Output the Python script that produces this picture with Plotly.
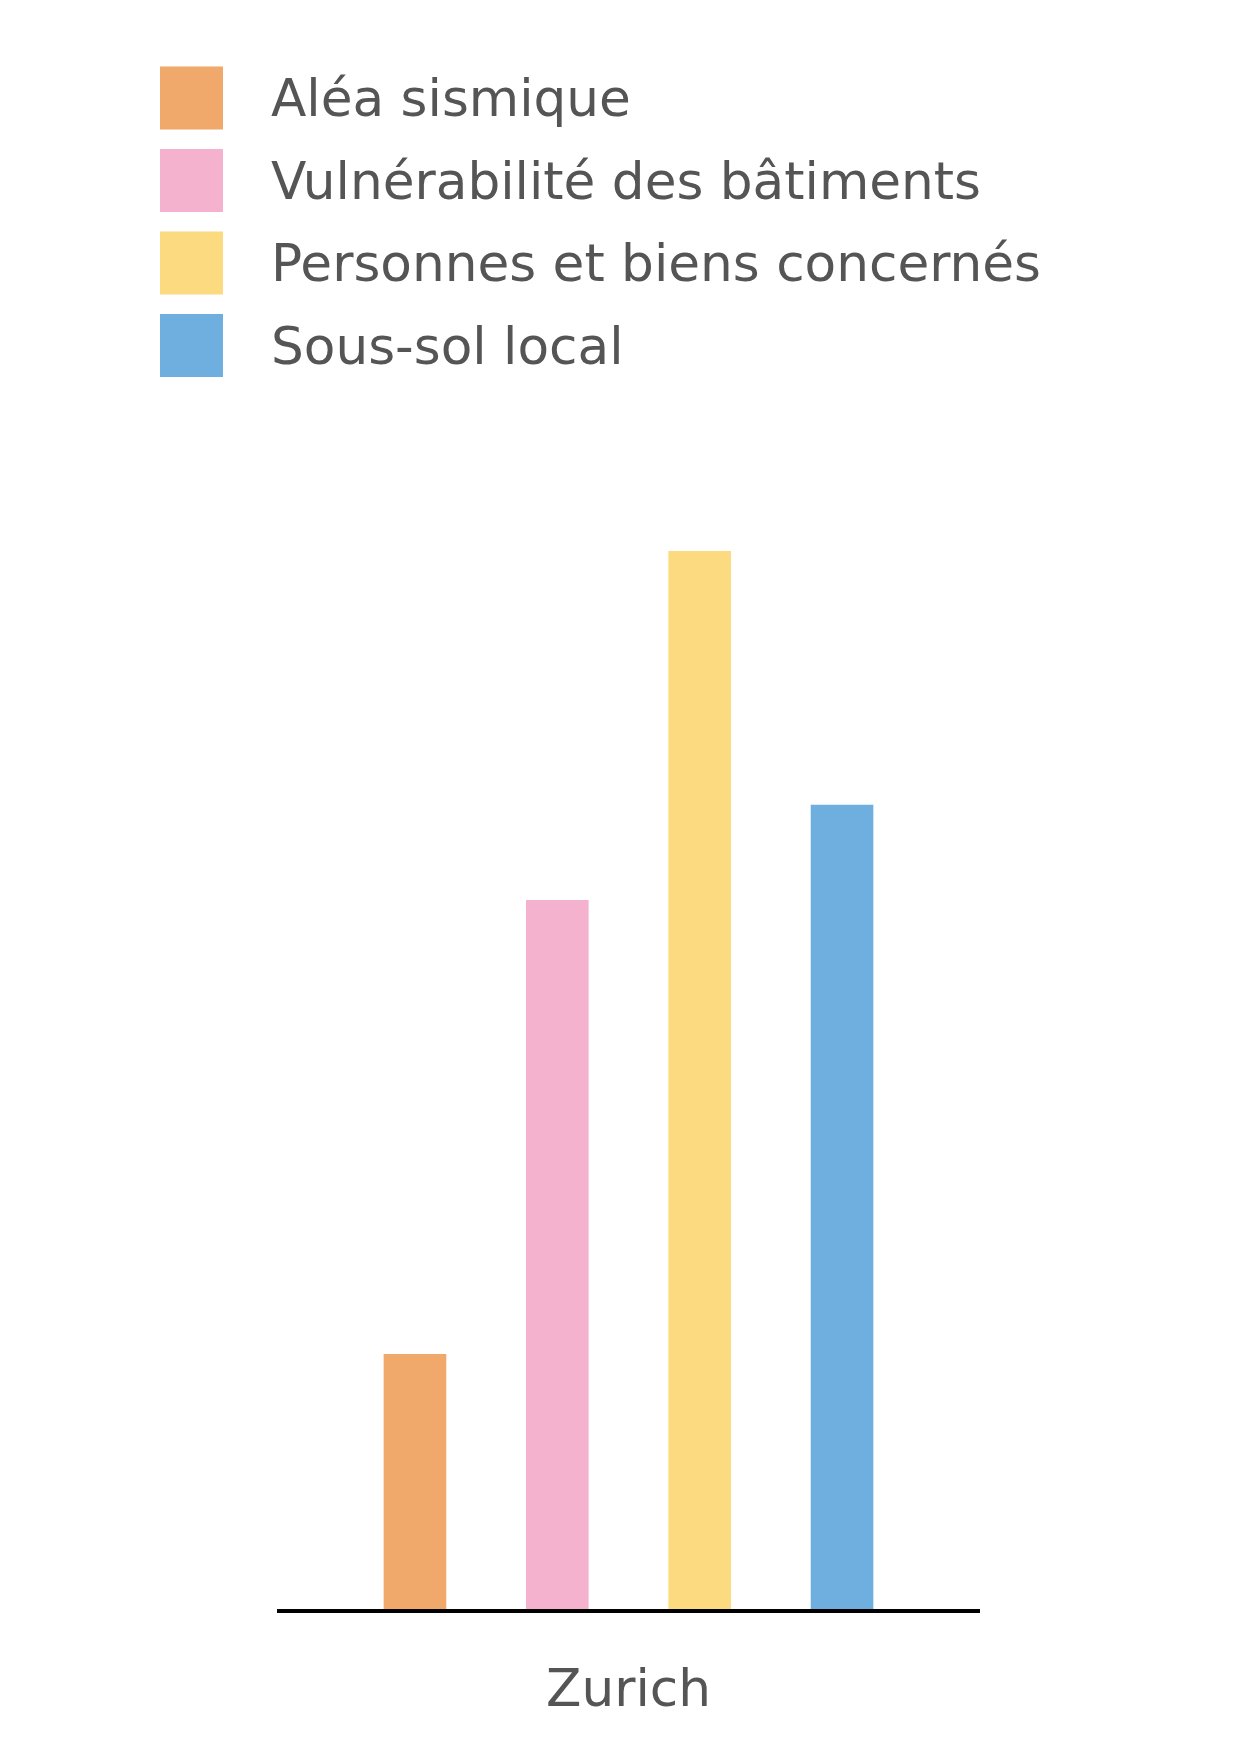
import plotly.graph_objects as go

categories = ["Zurich"]
series_names = ["Aléa sismique", "Vulnérabilité des bâtiments",
                "Personnes et biens concernés", "Sous-sol local"]
series_values = [[2.41], [6.70], [10.0], [7.60]]
series_colors = ["rgb(240,168,107)", "rgb(244,178,206)",
                 "rgb(252,218,128)", "rgb(111,175,223)"]

W, H = 1241, 1754
ML, MR, MT, MB = 269, 269, 490, 153
PW, PH = W - ML - MR, H - MT - MB
TEXT = "rgb(85,85,85)"
FONT = "DejaVu Sans"
FSIZE = 51.7

def px2x(px):
    return (px - ML) / PW

def py2y(py):
    return (H - MB - py) / PH

fig = go.Figure()
for name, vals, col in zip(series_names, series_values, series_colors):
    fig.add_trace(go.Bar(x=categories, y=vals, name=name,
                         marker=dict(color=col, line=dict(width=0)),
                         showlegend=False))

shapes, annotations = [], []
sq = 63
for i, (name, col) in enumerate(zip(series_names, series_colors)):
    cy = 90 + i * 82.5
    shapes.append(dict(type="rect", xref="paper", yref="paper",
                       x0=px2x(152), x1=px2x(152 + sq),
                       y0=py2y(cy + sq / 2), y1=py2y(cy - sq / 2),
                       fillcolor=col, line=dict(width=0), layer="above"))
    annotations.append(dict(text=name, xref="paper", yref="paper",
                            x=px2x(261), y=py2y(cy), xanchor="left",
                            yanchor="middle", showarrow=False,
                            font=dict(family=FONT, size=FSIZE, color=TEXT)))

fig.update_layout(
    width=W, height=H,
    margin=dict(l=ML, r=MR, t=MT, b=MB, pad=0),
    paper_bgcolor="white", plot_bgcolor="white",
    barmode="group", bargap=0.19, bargroupgap=0.56,
    showlegend=False,
    font=dict(family=FONT, color=TEXT),
    xaxis=dict(showline=True, linecolor="black", linewidth=3.5,
               showgrid=False, zeroline=False, ticks="",
               ticklabelstandoff=31,
               tickfont=dict(family=FONT, size=FSIZE, color=TEXT)),
    yaxis=dict(range=[0, 10.5], visible=False, showgrid=False,
               zeroline=False),
    shapes=shapes, annotations=annotations,
)

fig.write_html("out.html")
